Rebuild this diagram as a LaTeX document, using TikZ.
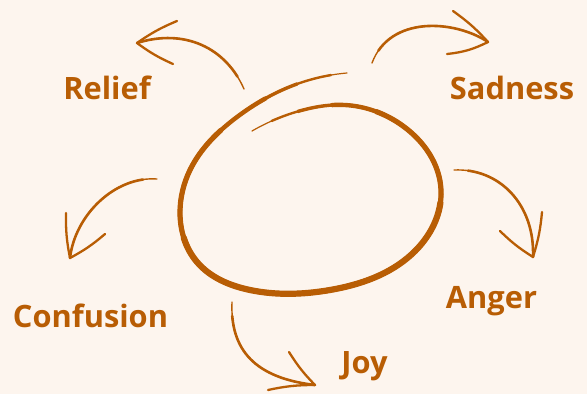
\documentclass[tikz,border=0pt]{standalone}
\usepackage{fontspec}
\setmainfont{Open Sans}
\usetikzlibrary{hobby}
\definecolor{bg}{HTML}{FDF5EE}
\definecolor{ink}{HTML}{B85D04}
\begin{document}
\begin{tikzpicture}[x=1pt,y=-1pt,
  lbl/.style={text=ink,font=\fontsize{30.8}{34}\selectfont\bfseries,anchor=base,inner sep=0pt},
  arrthin/.style={draw=ink,line width=1.4pt,line cap=round},
  arr/.style={draw=ink,line width=2.6pt,line cap=round,dash pattern=on 1000pt off 3000pt,dash phase=3986pt},
  barb/.style={draw=ink,line width=2.3pt,line cap=round},
  ring/.style={draw=ink,line cap=round,line join=round,use Hobby shortcut},
  seg/.style 2 args={dash pattern=on #2pt off 3000pt,dash phase={#2+3000-#1}}]
\fill[bg] (0,0) rectangle (587,394);
\useasboundingbox (0,0) rectangle (587,394);
% labels
\node[lbl] (relief) at (107,99) {Relief};
\node[lbl] (sadness) at (512,99) {Sadness};
\node[lbl] (confusion) at (90.5,327) {Confusion};
\node[lbl] (anger) at (491.5,308) {Anger};
\node[lbl] (joy) at (364.5,373) {Joy};
% hand-drawn ring: same path, layered widths for the taper
\def\ringpath{(252,131) .. (303,110) .. (345,105) .. (403,126) .. (441,190) .. (412,254) .. (330,290) .. (250,290) .. (197,262) .. (180,212) .. (190,170) .. (237,117) .. (297,84) .. (347,73)}
\draw[ring,line width=1.2pt] \ringpath;
\draw[ring,line width=2.4pt,seg={22}{793}] \ringpath;
\draw[ring,line width=3.4pt,seg={50}{730}] \ringpath;
\draw[ring,line width=4.4pt,seg={85}{660}] \ringpath;
\draw[ring,line width=5.2pt,seg={130}{560}] \ringpath;
\draw[ring,line width=6.2pt,seg={250}{320}] \ringpath;
% arrow anchor points
\coordinate (relS) at (244,89);   \coordinate (relT) at (137,43);
\coordinate (relA) at (177,21);   \coordinate (relB) at (173,64);
\coordinate (sadS) at (372,63);   \coordinate (sadT) at (488,42);
\coordinate (sadA) at (453,11);   \coordinate (sadB) at (447,54);
\coordinate (angS) at (454,170);  \coordinate (angT) at (533,257);
\coordinate (angA) at (542,212);  \coordinate (angB) at (500,231);
\coordinate (joyS) at (232,302);  \coordinate (joyT) at (315,385);
\coordinate (joyA) at (289,352);  \coordinate (joyB) at (268,390);
\coordinate (conS) at (157,179);  \coordinate (conT) at (70,258);
\coordinate (conA) at (66,213);   \coordinate (conB) at (105,234);
% arrows
\foreach \s/\t/\ca/\cb in {relS/relT/{226,48}/{185,28}, sadS/sadT/{390,15}/{455,20}, angS/angT/{500,168}/{535,205}, joyS/joyT/{230,350}/{255,378}, conS/conT/{115,176}/{75,215}}{
  \draw[arrthin] (\s) .. controls (\ca) and (\cb) .. (\t);
  \draw[arr] (\s) .. controls (\ca) and (\cb) .. (\t);
}
\draw[barb] (relT) to[bend left=6] (relA);
\draw[barb] (relT) to[bend right=6] (relB);
\draw[barb] (sadT) to[bend right=6] (sadA);
\draw[barb] (sadT) to[bend left=10] (sadB);
\draw[barb] (angT) to[bend right=6] (angA);
\draw[barb] (angT) to[bend left=6] (angB);
\draw[barb] (joyT) to[bend left=6] (joyA);
\draw[barb] (joyT) to[bend right=6] (joyB);
\draw[barb] (conT) to[bend left=6] (conA);
\draw[barb] (conT) to[bend right=6] (conB);
\end{tikzpicture}
\end{document}
